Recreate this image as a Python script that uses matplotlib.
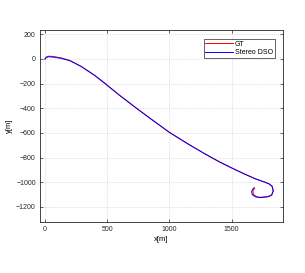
import matplotlib
matplotlib.use("Agg")
import matplotlib.pyplot as plt

# trajectories (meters)
gt_x = [0, 10, 30, 70, 130, 200, 292, 402, 479, 600, 739, 843, 1000, 1150, 1285, 1400, 1500,
        1600, 1690, 1760, 1800, 1824, 1834, 1822, 1790, 1727, 1695, 1675, 1670, 1675, 1685]
gt_y = [0, 14, 22, 19, 8, -13, -62, -136, -197, -296, -403, -481, -596, -690, -770, -834, -884,
        -932, -972, -997, -1013, -1032, -1068, -1102, -1115, -1122, -1115, -1098, -1075, -1058, -1048]

dso_x = [0, 8, 25, 70, 130, 200, 292, 402, 479, 600, 739, 843, 1000, 1150, 1285, 1400, 1500,
         1600, 1690, 1760, 1800, 1824, 1834, 1820, 1790, 1727, 1690, 1665, 1660, 1670, 1680]
dso_y = [-3, 10, 17, 14, 4, -15, -62, -136, -197, -296, -403, -481, -596, -690, -770, -834, -884,
         -932, -972, -997, -1013, -1032, -1070, -1105, -1118, -1125, -1118, -1100, -1075, -1055, -1045]

xticks = [0, 500, 1000, 1500]
yticks = [200, 0, -200, -400, -600, -800, -1000, -1200]

plt.rcParams['font.family'] = ['Liberation Sans', 'DejaVu Sans']

fig = plt.figure(figsize=(3.05, 2.73), dpi=100)
ax = fig.add_axes([40 / 305, 51 / 273, 243 / 305, 192 / 273])

ax.plot(gt_x, gt_y, color='#ff0000', lw=0.7, label='GT')
ax.plot(dso_x, dso_y, color='#0000ff', lw=0.7, label='Stereo DSO')

ax.set_xlim(-40, 1912)
ax.set_ylim(-1322, 234)
ax.set_xticks(xticks)
ax.set_yticks(yticks)
ax.grid(True, linestyle=':', color='#c8c8c8', linewidth=0.5)
ax.tick_params(direction='in', length=2, width=0.5, top=True, right=True,
               colors='#262626', labelsize=5, pad=3)
for s in ax.spines.values():
    s.set_linewidth(0.6)
    s.set_color('#262626')

ax.set_xlabel('x[m]', fontsize=5.5, labelpad=2)
ax.set_ylabel('y[m]', fontsize=5.5, labelpad=2)

leg = ax.legend(loc='upper right', bbox_to_anchor=(0.967, 0.953), borderaxespad=0,
                fancybox=False, framealpha=1, edgecolor='#262626', fontsize=5,
                handlelength=4.0, handletextpad=0.3, borderpad=0.25, labelspacing=0.2)
leg.get_frame().set_linewidth(0.5)

fig.savefig('out.png', dpi=100)
